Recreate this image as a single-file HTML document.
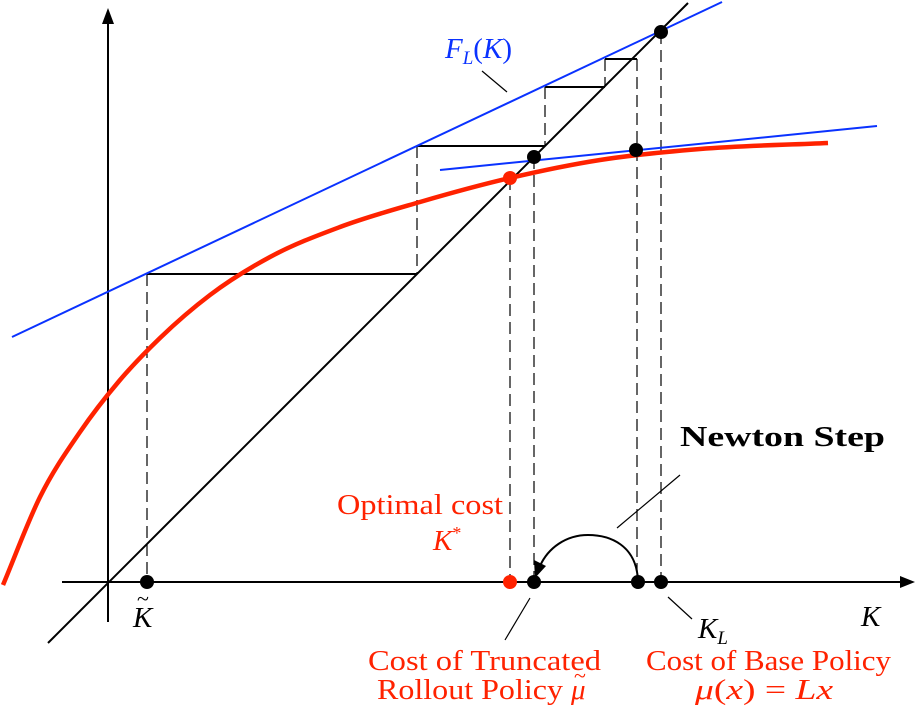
<!DOCTYPE html>
<html><head><meta charset="utf-8"><style>
html,body{margin:0;padding:0;background:#fff}
svg{display:block}
text{font-family:"Liberation Serif",serif}
</style></head><body>
<svg id="c" width="916" height="715" viewBox="0 0 916 715" xmlns="http://www.w3.org/2000/svg">
<g id="g"></g>
<line x1="62" y1="582" x2="904" y2="582" stroke="#000" stroke-width="2"/>
<path d="M915,582 L900,576 L900,588 z" fill="#000"/>
<line x1="108" y1="622" x2="108" y2="20" stroke="#000" stroke-width="2"/>
<path d="M108,8 L102,24 L114,24 z" fill="#000"/>
<line x1="48" y1="643" x2="688" y2="3" stroke="#000" stroke-width="2"/>
<line x1="12" y1="337" x2="722" y2="2" stroke="#0a32ff" stroke-width="2"/>
<line x1="440" y1="170" x2="877" y2="126" stroke="#0a32ff" stroke-width="2"/>
<path id="curve" fill="none" stroke="#ff2200" stroke-width="4.5"/>
<path d="M638,580 C636,545 610,535 588,535 C566,535 548,548 540,566" fill="none" stroke="#000" stroke-width="2"/>
<path d="M535,578 L534,560 L546,566 z" fill="#000"/>
<line x1="680" y1="475" x2="617" y2="528" stroke="#000" stroke-width="1.2"/>
<line x1="668" y1="597" x2="692" y2="619" stroke="#000" stroke-width="1.2"/>
<line x1="530" y1="598" x2="505" y2="640" stroke="#000" stroke-width="1.2"/>
<line x1="482" y1="71" x2="507" y2="92" stroke="#000" stroke-width="1.2"/>
<g id="pts"></g>
<text x="445" y="58" font-size="29" fill="#0a32ff" font-style="italic">F<tspan font-size="19" dy="6">L</tspan><tspan dy="-6" font-style="normal">(</tspan>K<tspan font-style="normal">)</tspan></text>
<text x="680" y="446" font-size="29" font-weight="bold" textLength="205" lengthAdjust="spacingAndGlyphs">Newton Step</text>
<text x="337" y="514" font-size="29" fill="#ff2200" textLength="166" lengthAdjust="spacingAndGlyphs">Optimal cost</text>
<text x="433" y="550" font-size="29" fill="#ff2200" font-style="italic">K<tspan font-size="18" dy="-11" font-style="normal">*</tspan></text>
<text x="133" y="627" font-size="29" font-style="italic">K</text>
<text x="137" y="606" font-size="22">~</text>
<text x="698" y="638" font-size="29" font-style="italic">K<tspan font-size="19" dy="6">L</tspan></text>
<text x="861" y="626" font-size="29" font-style="italic">K</text>
<text x="368" y="670" font-size="29" fill="#ff2200" textLength="233" lengthAdjust="spacingAndGlyphs">Cost of Truncated</text>
<text x="377" y="699" font-size="29" fill="#ff2200" textLength="186" lengthAdjust="spacingAndGlyphs">Rollout Policy</text>
<text x="571" y="699" font-size="29" fill="#ff2200" font-style="italic">μ</text>
<text x="574" y="683" font-size="22" fill="#ff2200">~</text>
<text x="646" y="670" font-size="29" fill="#ff2200" textLength="245" lengthAdjust="spacingAndGlyphs">Cost of Base Policy</text>
<text x="695" y="699" font-size="29" fill="#ff2200" textLength="138" lengthAdjust="spacingAndGlyphs"><tspan font-style="italic">μ</tspan>(<tspan font-style="italic">x</tspan>) = <tspan font-style="italic">Lx</tspan></text>
</svg>
<script>
const curveX=[3,40,80,120,160,210,270,340,420,510,600,700,828];
const curveY=[585,497,432,380,338,295,257,227,202,178,160,149,143];
const solidSegs=[[147,274,417,274],[417,146,545,146],[545,87,605,87],[605,59,637,59]];
const dashSegs=[[147,274,147,582],[417,146,417,274],[510,178,510,582],[534,157,534,582],[545,87,545,146],[605,59,605,87],[637,59,637,582],[661,32,661,582]];
const blackPts=[[147,582],[534,582],[638,582],[661,582],[661,32],[534,157],[636,150]];
const redPts=[[510,582],[510,178]];
const NS='http://www.w3.org/2000/svg';
const n=curveX.length, sec=[], m=[];
for(let i=0;i<n-1;i++) sec.push((curveY[i+1]-curveY[i])/(curveX[i+1]-curveX[i]));
for(let i=0;i<n;i++){
  if(i===0) m.push(sec[0]);
  else if(i===n-1) m.push(sec[n-2]);
  else { const h0=curveX[i]-curveX[i-1], h1=curveX[i+1]-curveX[i];
    m.push((sec[i-1]*h1+sec[i]*h0)/(h0+h1)); }
}
let d='M'+curveX[0]+','+curveY[0];
for(let i=0;i<n-1;i++){
  const h=(curveX[i+1]-curveX[i])/3;
  d+=' C'+(curveX[i]+h)+','+(curveY[i]+m[i]*h)+' '+(curveX[i+1]-h)+','+(curveY[i+1]-m[i+1]*h)+' '+curveX[i+1]+','+curveY[i+1];
}
document.getElementById('curve').setAttribute('d',d);
const g=document.getElementById('g');
solidSegs.forEach(s=>{const l=document.createElementNS(NS,'line');
l.setAttribute('x1',s[0]);l.setAttribute('y1',s[1]);l.setAttribute('x2',s[2]);l.setAttribute('y2',s[3]);
l.setAttribute('stroke','#000');l.setAttribute('stroke-width','2');


g.appendChild(l);});
dashSegs.forEach(s=>{const l=document.createElementNS(NS,'line');
l.setAttribute('x1',s[0]);l.setAttribute('y1',s[1]);l.setAttribute('x2',s[2]);l.setAttribute('y2',s[3]);
l.setAttribute('stroke','#000');l.setAttribute('stroke-width','1.2');l.setAttribute('stroke-dasharray','12,6');


g.appendChild(l);});
const pg=document.getElementById('pts');
function dot(p,col,name){const c=document.createElementNS(NS,'circle');
c.setAttribute('cx',p[0]);c.setAttribute('cy',p[1]);c.setAttribute('r','7');c.setAttribute('fill',col);


pg.appendChild(c);}
blackPts.forEach(p=>dot(p,'#000','point'));
redPts.forEach(p=>dot(p,'#ff2200','optimal-point'));
</script>
</body></html>
